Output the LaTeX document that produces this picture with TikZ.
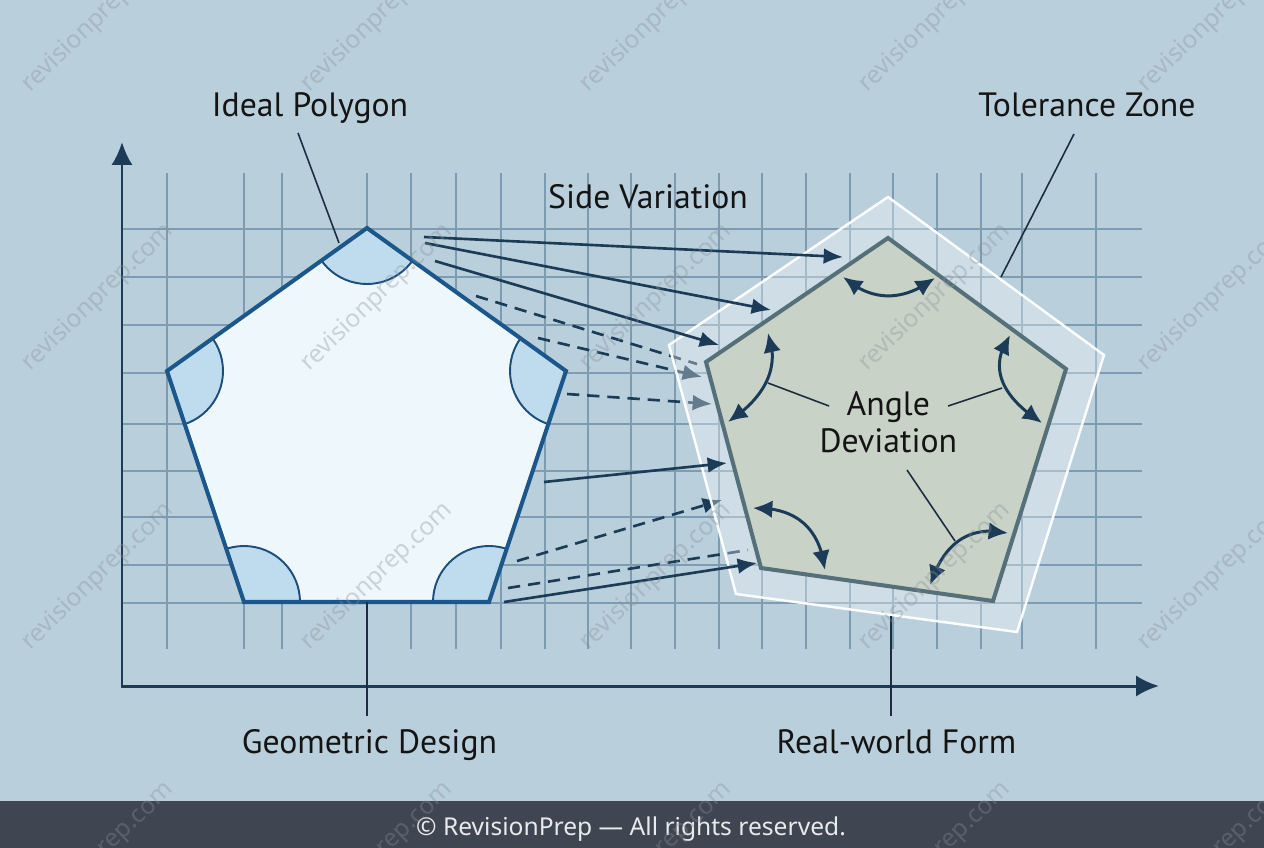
\documentclass[tikz,border=0pt]{standalone}
\usepackage{fontspec}
\setmainfont{PT Sans}
\newfontfamily\footfont{Noto Sans}
\usetikzlibrary{arrows.meta,bending}
\definecolor{bgc}{HTML}{B9CFDB}
\definecolor{gridc}{HTML}{7D9BB1}
\definecolor{axisc}{HTML}{1D3A56}
\definecolor{idealfill}{HTML}{EEF8FC}
\definecolor{idealedge}{HTML}{1B578B}
\definecolor{arcfill}{HTML}{BFDCEF}
\definecolor{arcedge}{HTML}{1D4D7B}
\definecolor{realfill}{HTML}{C8D2C6}
\definecolor{realedge}{HTML}{56707A}
\definecolor{arrowc}{HTML}{1C3B57}
\definecolor{leadc}{HTML}{1B2D3E}
\definecolor{footc}{HTML}{3F4651}
\definecolor{foottext}{HTML}{E8EAEC}
\definecolor{wmc}{HTML}{8A9098}
\tikzset{
  gridline/.style={gridc, line width=0.6pt},
  axisline/.style={axisc, line width=1.7pt, {Latex[length=13pt,width=12pt]}-{Latex[length=13pt,width=12pt]}},
  solidarrow/.style={arrowc, line width=1.5pt, -{Latex[length=11pt,width=9pt]}},
  dasharrow/.style={arrowc, line width=1.5pt, dash pattern=on 7pt off 4.5pt, -{Latex[length=11pt,width=9pt]}},
  dashlineonly/.style={arrowc, line width=1.5pt, dash pattern=on 7pt off 4.5pt},
  anglearrow/.style={arrowc, line width=1.7pt, {Latex[length=11pt,width=10pt,flex]}-{Latex[length=11pt,width=10pt,flex]}},
  leader/.style={leadc, line width=0.9pt},
  lbl/.style={font=\fontsize{19.2}{22}\selectfont, text=black!92, anchor=base, inner sep=0pt},
  wm/.style={font=\footfont\fontsize{14}{16}\selectfont, text=wmc, opacity=0.36, rotate=44, anchor=base west, inner sep=0pt},
}
\begin{document}
\begin{tikzpicture}[x=0.02cm,y=-0.02cm]
\useasboundingbox (0,0) rectangle (1264,848);
\clip (0,0) rectangle (1264,848);
\fill[bgc] (0,0) rectangle (1264,848);

% grid
\foreach \gx in {167,244,282,367,411,456,501,545,588,631,675,719,762,806,850,893,937,981,1022,1096}
  \draw[gridline] (\gx,173) -- (\gx,649);
\foreach \gy in {229,277,325,373,424,471,517,565,603}
  \draw[gridline] (122,\gy) -- (1142,\gy);

% axes
\coordinate (origin) at (122,686);
\coordinate (ytip) at (122,142);
\coordinate (xtip) at (1159,686);
\draw[axisline] (ytip) -- (origin) -- (xtip);

% ideal polygon
\coordinate (P1) at (367,228);
\coordinate (P2) at (566,371);
\coordinate (P3) at (489,602);
\coordinate (P4) at (244,602);
\coordinate (P5) at (167,371);
\fill[idealfill] (P1) -- (P2) -- (P3) -- (P4) -- (P5) -- cycle;
\begin{scope}
  \clip (P1) -- (P2) -- (P3) -- (P4) -- (P5) -- cycle;
  \foreach \p in {P1,P2,P3,P4,P5}
    \filldraw[fill=arcfill, draw=arcedge, line width=1.1pt] (\p) circle[radius=56];
\end{scope}
\draw[idealedge, line width=2.3pt, line join=miter] (P1) -- (P2) -- (P3) -- (P4) -- (P5) -- cycle;

% dashed arrows (beneath tolerance zone)
\coordinate (d1s) at (476,296); \coordinate (d1e) at (697,364);
\coordinate (d2s) at (538,338); \coordinate (d2e) at (702,377);
\coordinate (d3s) at (567,394); \coordinate (d3e) at (712,404);
\coordinate (d4s) at (517,561); \coordinate (d4e) at (722,500);
\coordinate (d5s) at (508,588); \coordinate (d5e) at (748,550);
\draw[dashlineonly] (d1s) -- (d1e);
\draw[dasharrow] (d2s) -- (d2e);
\draw[dasharrow] (d3s) -- (d3e);
\draw[dasharrow] (d4s) -- (d4e);
\draw[dashlineonly] (d5s) -- (d5e);

% tolerance zone
\coordinate (T1) at (888,197);
\coordinate (T2) at (1104,355);
\coordinate (T3) at (1017,632);
\coordinate (T4) at (736,594);
\coordinate (T5) at (669,345);
\filldraw[fill=white, fill opacity=0.32, draw=white, draw opacity=0.95, line width=1.4pt, line join=miter]
  (T1) -- (T2) -- (T3) -- (T4) -- (T5) -- cycle;

% real-world form
\coordinate (R1) at (888,238);
\coordinate (R2) at (1066,369);
\coordinate (R3) at (993,601);
\coordinate (R4) at (761,568);
\coordinate (R5) at (706,362);
\filldraw[fill=realfill, draw=realedge, line width=2.3pt, line join=miter]
  (R1) -- (R2) -- (R3) -- (R4) -- (R5) -- cycle;

% solid arrows
\coordinate (s1s) at (424,237); \coordinate (s1e) at (843,257);
\coordinate (s2s) at (425,243); \coordinate (s2e) at (771,310);
\coordinate (s3s) at (435,261); \coordinate (s3e) at (719,345);
\coordinate (s4s) at (544,482); \coordinate (s4e) at (727,463);
\coordinate (s5s) at (504,602); \coordinate (s5e) at (757,563);
\draw[solidarrow] (s1s) -- (s1e);
\draw[solidarrow] (s2s) -- (s2e);
\draw[solidarrow] (s3s) -- (s3e);
\draw[solidarrow] (s4s) -- (s4e);
\draw[solidarrow] (s5s) -- (s5e);

% angle deviation arrows
\coordinate (a1a) at (843,277); \coordinate (a1b) at (935,278);
\coordinate (a2a) at (768,333); \coordinate (a2b) at (728,422);
\coordinate (a3a) at (1010,335); \coordinate (a3b) at (1042,423);
\coordinate (a4a) at (753,508); \coordinate (a4b) at (825,570);
\coordinate (a5a) at (930,585); \coordinate (a5b) at (1008,533);
\draw[anglearrow] (a1a) .. controls (872,302) and (903,302) .. (a1b);
\draw[anglearrow] (a2a) .. controls (780,366) and (767,396) .. (a2b);
\draw[anglearrow] (a3a) .. controls (989,366) and (999,395) .. (a3b);
\draw[anglearrow] (a4a) .. controls (796,507) and (820,528) .. (a4b);
\draw[anglearrow] (a5a) .. controls (944,542) and (970,525) .. (a5b);

% labels
\node[lbl] (ideal) at (310,116.7) {Ideal Polygon};
\node[lbl] (side) at (648,208.3) {Side Variation};
\node[lbl] (tol) at (1087,116.7) {Tolerance Zone};
\node[lbl] (geo) at (369.5,753) {Geometric Design};
\node[lbl] (real) at (896.5,753) {Real-world Form};
\node[lbl] (angle) at (888.3,415) {Angle};
\node[lbl] (dev) at (888.3,452.7) {Deviation};

% leader lines
\coordinate (idealA) at (298,133); \coordinate (idealB) at (339,243);
\coordinate (tolA) at (1074,134); \coordinate (tolB) at (1001,277);
\coordinate (geoA) at (367,602); \coordinate (geoB) at (367,716);
\coordinate (realA) at (891,616); \coordinate (realB) at (891,716);
\coordinate (l1a) at (768,383); \coordinate (l1b) at (829,406);
\coordinate (l2a) at (948,406); \coordinate (l2b) at (1002,388);
\coordinate (l3a) at (907,470); \coordinate (l3b) at (955,541);
\draw[leader] (idealA) -- (idealB);
\draw[leader] (tolA) -- (tolB);
\draw[leader] (geoA) -- (geoB);
\draw[leader] (realA) -- (realB);
\draw[leader] (l1a) -- (l1b);
\draw[leader] (l2a) -- (l2b);
\draw[leader] (l3a) -- (l3b);

% footer
\fill[footc] (0,801) rectangle (1264,848);
\node[font=\footfont\fontsize{14}{16}\selectfont, text=foottext, anchor=base, inner sep=0pt] (foot) at (631,835) {© RevisionPrep — All rights reserved.};

% watermark
\foreach \i in {0,...,4}
  \foreach \j in {0,...,3}
    \node[wm] at ({30+279*\i},{93+279*\j}) {revisionprep.com};
\end{tikzpicture}
\end{document}
